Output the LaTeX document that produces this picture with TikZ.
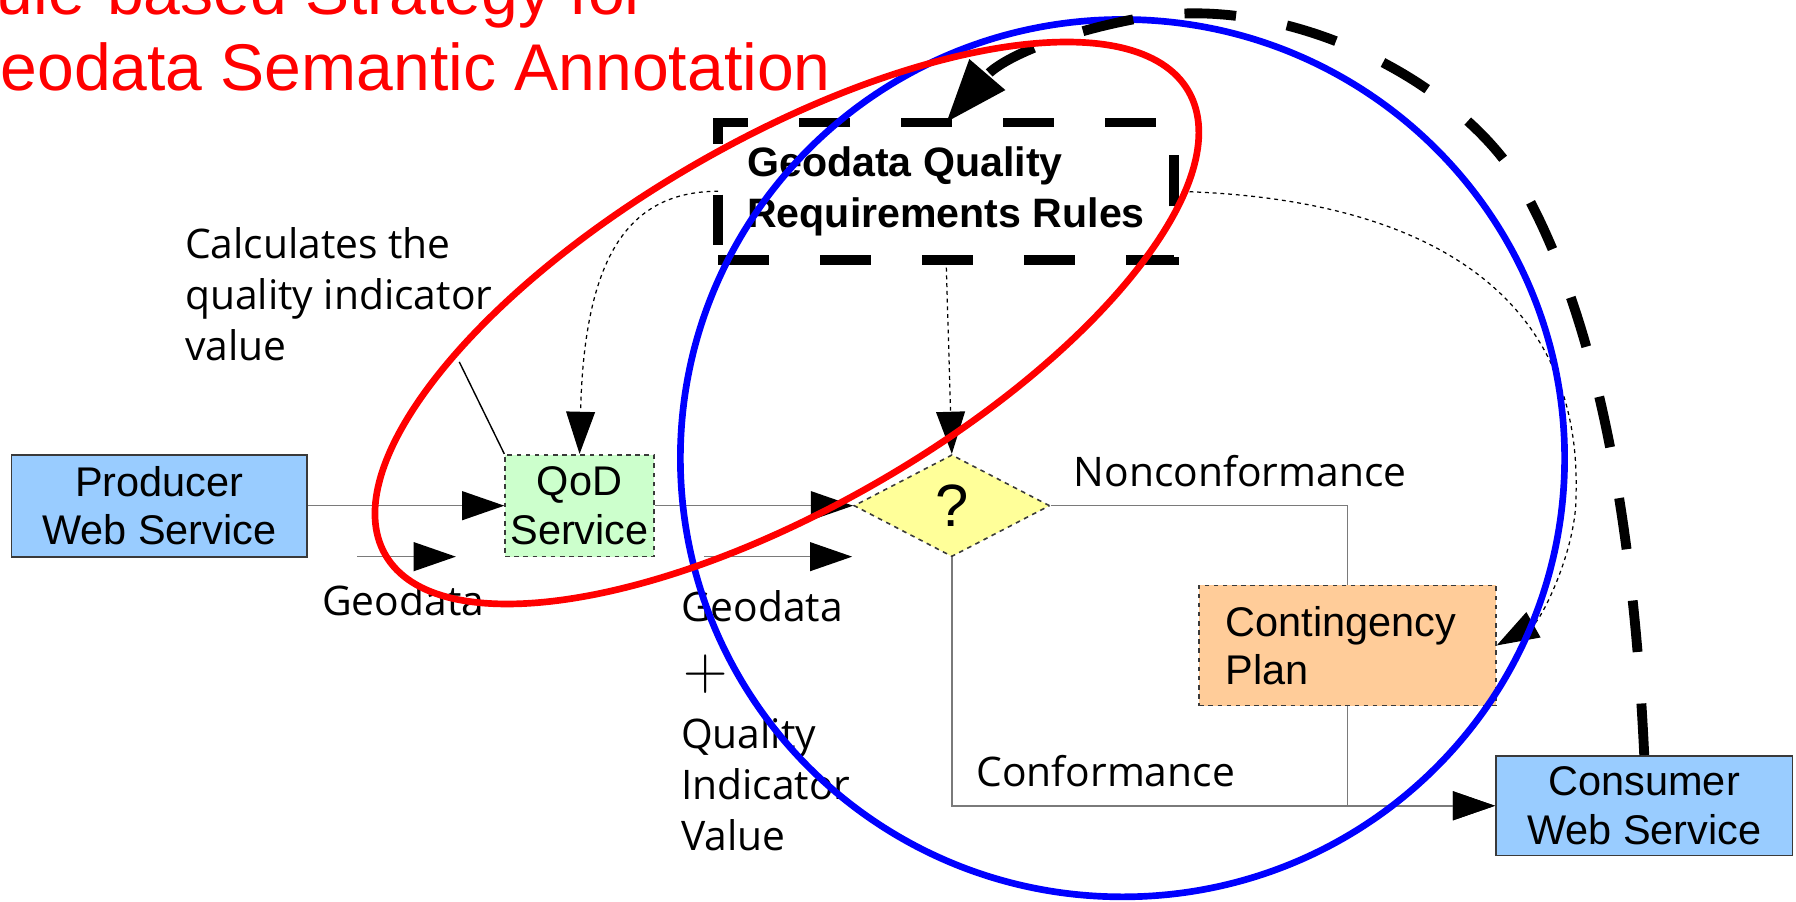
\documentclass[tikz,border=0pt]{standalone}
\usepackage{fontspec}
\setmainfont{Liberation Sans}
\newfontfamily\labelfont{Open Sans}
\newfontfamily\plusfont{Latin Modern Roman}
\usetikzlibrary{arrows.meta,shapes.geometric}

\definecolor{prodblue}{HTML}{99CCFF}
\definecolor{qodgreen}{HTML}{CCFFCC}
\definecolor{decyellow}{HTML}{FFFF99}
\definecolor{contorange}{HTML}{FFCC99}
\definecolor{linegray}{HTML}{7A7A7A}
\definecolor{edgegray}{HTML}{3A3A3A}
\def\unitpx{0.3259pt}

\tikzset{
  boxfont/.style={font=\fontsize{11.8}{13.8}\selectfont},
  lbl/.style={inner sep=0pt, font=\labelfont\fontsize{11.6}{14.5}\selectfont},
  procbox/.style={draw=edgegray, line width=0.5pt, inner sep=0pt, align=center, boxfont},
  dashbox/.style={draw=edgegray, line width=0.45pt, dash pattern=on 1.3pt off 1.3pt, inner sep=0pt, boxfont},
  rulesbox/.style={draw=black, line width=2.8pt, dash pattern=on 14.5pt off 14.5pt,
    inner sep=0pt, outer sep=0pt, align=left, font=\bfseries\fontsize{11.7}{14.6}\selectfont},
  conn/.style={draw=linegray, line width=0.45pt, -{Triangle[length=12pt, width=8.2pt, color=black]}},
  plainline/.style={draw=linegray, line width=0.45pt},
  dotarr/.style={draw=black, line width=0.35pt, dash pattern=on 1.1pt off 1.1pt,
    -{Triangle[length=12pt, width=8.2pt, color=black]}},
  bigdash/.style={draw=black, line width=2.8pt, dash pattern=on 14.7pt off 14.7pt,
    -{Triangle[length=18pt, width=12.7pt]}},
  ring/.style={line width=1.9pt},
}

\begin{document}
\begin{tikzpicture}[x=0.3259pt, y=-0.3259pt]
\useasboundingbox (0,0) rectangle (1568,787);
\fill[white] (0,0) rectangle (1568,787);

% title
\node[inner sep=0pt, anchor=base west, text=red, font=\fontsize{18.8}{21.8}\selectfont]
  (title1) at (-45,13) {Rule-based Strategy for};
\node[inner sep=0pt, anchor=base west, text=red, font=\fontsize{18.8}{21.8}\selectfont]
  (title2) at (-45,78.6) {Geodata Semantic Annotation};

% process nodes
\node[procbox, fill=prodblue, minimum width=258*\unitpx, minimum height=89*\unitpx]
  (prod) at (139,441.5) {Producer\\Web Service};
\node[dashbox, fill=qodgreen, align=center, minimum width=130*\unitpx, minimum height=89*\unitpx]
  (qod) at (506,441.5) {QoD\\Service};
\node[dashbox, diamond, fill=decyellow, minimum width=171*\unitpx, minimum height=89*\unitpx,
  font=\fontsize{17}{17}\selectfont] (dec) at (831,441.5) {?};
\node[dashbox, fill=contorange, align=left, text width=213*\unitpx,
  minimum width=259*\unitpx, minimum height=105*\unitpx]
  (cont) at (1176.5,563.5) {Contingency\\Plan};
\node[procbox, fill=prodblue, minimum width=259*\unitpx, minimum height=87*\unitpx]
  (cons) at (1435.5,703.5) {Consumer\\Web Service};
\node[rulesbox, minimum width=398*\unitpx, minimum height=120*\unitpx]
  (rules) at (826,167) {Geodata Quality\\Requirements Rules};

% labels
\node[lbl, anchor=north west, align=left] (calc) at (161,198)
  {Calculates the\\quality indicator\\value};
\node[lbl, anchor=base] (geo1) at (352,537) {Geodata};
\node[lbl, anchor=base west] (geo2) at (594,543) {Geodata};
\node[inner sep=0pt, font=\plusfont\fontsize{17.5}{17.5}\selectfont] (plus) at (616,589) {+};
\node[lbl, anchor=north west, align=left] (qiv) at (594,626) {Quality\\Indicator\\Value};
\node[lbl, anchor=base west] (nonconf) at (937,425) {Nonconformance};
\node[lbl, anchor=base west] (conf) at (852,687) {Conformance};

% main flow
\draw[conn] (prod) -- (qod);
\draw[conn] (qod) -- (dec);
\coordinate (g1s) at (312,486);
\coordinate (g1e) at (398,486);
\draw[conn] (g1s) -- (g1e);
\coordinate (g2s) at (615,486);
\coordinate (g2e) at (744,486);
\draw[conn] (g2s) -- (g2e);
\draw[plainline] (dec.east) -| (cont.north);
\draw[conn] (cont.south) |- (cons.west);
\draw[conn] (dec.south) |- (cons.west);

% callout
\coordinate (callout) at (401,316);
\draw[black, line width=0.4pt] (callout) -- (qod.north west);

% rule references
\draw[dotarr] (rules.south) -- (dec.north);
\draw[dotarr] (rules.west) .. controls (545,167) and (510,230) .. (qod.north);
\draw[dotarr] (rules.east) .. controls (1250,172) and (1380,260) .. (1376,430)
  .. controls (1377,480) and (1345,542) .. (cont.east);

% scope rings
\draw[ring, blue] (980,400) ellipse [x radius=386, y radius=383];
\draw[bigdash] (cons.north) .. controls (1428,500) and (1405,300) .. (1330,165)
  .. controls (1280,75) and (1130,-6) .. (1000,15)
  .. controls (930,27) and (875,50) .. (rules.north);
\draw[ring, red, rotate around={30:(687,282)}] (687,282) ellipse [x radius=404.8, y radius=160];
\end{tikzpicture}
\end{document}
